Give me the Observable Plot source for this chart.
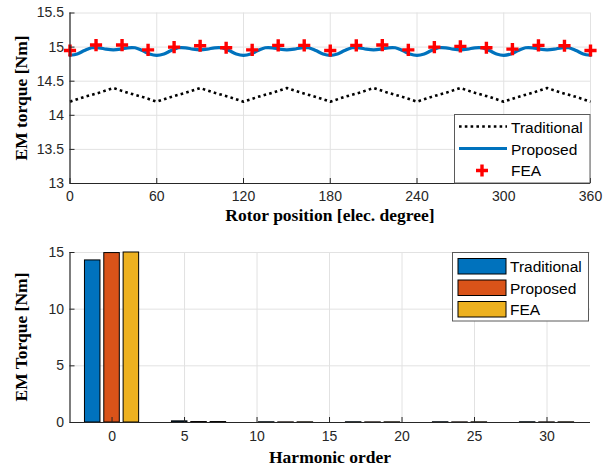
<!DOCTYPE html>
<html>
<head>
<meta charset="utf-8">
<script src="https://cdn.jsdelivr.net/npm/d3@7"></script>
<script src="https://cdn.jsdelivr.net/npm/@observablehq/plot@0.6"></script>
<style>
  html, body { margin: 0; padding: 0; background: #fff; }
  #wrap { position: relative; width: 613px; height: 467px; overflow: hidden; }
  #topPlot, #botPlot, #overlay { position: absolute; left: 0; }
  #topPlot { top: 0; }
  #botPlot { top: 230px; }
  #overlay { top: 0; pointer-events: none; }
</style>
</head>
<body>
<div id="wrap">
  <div id="topPlot"></div>
  <div id="botPlot"></div>
  <svg id="overlay" width="613" height="467"></svg>
</div>
<script>
// ---------- DATA ----------
const xTicksTop = [0, 60, 120, 180, 240, 300, 360];
const yTicksTop = [13, 13.5, 14, 14.5, 15, 15.5];

const angleTrad = [0,10,20,30,40,50,60,70,80,90,100,110,120,130,140,150,160,170,180,
  190,200,210,220,230,240,250,260,270,280,290,300,310,320,330,340,350,360];
const traditional = [14.2,14.27,14.33,14.4,14.33,14.27,14.2,14.27,14.33,14.4,14.33,14.27,14.2,
  14.27,14.33,14.4,14.33,14.27,14.2,14.27,14.33,14.4,14.33,14.27,14.2,14.27,14.33,14.4,
  14.33,14.27,14.2,14.27,14.33,14.4,14.33,14.27,14.2];

const angleProp = [0,5,10,15,20,25,30,35,40,45,50,55,60,65,70,75,80,85,90,95,100,105,110,115,120,
  125,130,135,140,145,150,155,160,165,170,175,180,185,190,195,200,205,210,215,220,225,230,235,240,
  245,250,255,260,265,270,275,280,285,290,295,300,305,310,315,320,325,330,335,340,345,350,355,360];
const proposed = [14.88,14.90,14.95,14.99,14.99,14.97,14.96,14.97,14.99,14.99,14.95,14.90,
  14.88,14.90,14.95,14.99,14.99,14.97,14.96,14.97,14.99,14.99,14.95,14.90,
  14.88,14.90,14.95,14.99,14.99,14.97,14.96,14.97,14.99,14.99,14.95,14.90,
  14.88,14.90,14.95,14.99,14.99,14.97,14.96,14.97,14.99,14.99,14.95,14.90,
  14.88,14.90,14.95,14.99,14.99,14.97,14.96,14.97,14.99,14.99,14.95,14.90,
  14.88,14.90,14.95,14.99,14.99,14.97,14.96,14.97,14.99,14.99,14.95,14.90,
  14.88];

const angleFea = [0,18,36,54,72,90,108,126,144,162,180,198,216,234,252,270,288,306,324,342,360];
const feaTorque = [14.95,15.03,15.03,14.96,15.0,15.02,14.99,14.96,15.025,15.025,14.95,
  15.025,15.03,14.96,15.0,15.01,14.99,14.97,15.025,15.02,14.95];

const xTicksBot = [0, 5, 10, 15, 20, 25, 30];
const yTicksBot = [0, 5, 10, 15];
const harmonics = [0, 6, 12, 18, 24, 30];
const barTraditional = [14.3, 0.1, 0.02, 0.02, 0.02, 0.02];
const barProposed    = [14.95, 0.04, 0.01, 0.01, 0.01, 0.01];
const barFEA         = [15.0, 0.04, 0.015, 0.015, 0.015, 0.015];

const seriesNames = ["Traditional", "Proposed", "FEA"];
const barColors = ["#0072BD", "#D95319", "#EDB120"];

// ---------- styling ----------
const axisColor = "#262626";
const gridColor = "#e2e2e2";
const tickFont = "'Liberation Sans', Arial, Helvetica, sans-serif";
const titleFont = "'Liberation Serif', 'Times New Roman', serif";

// ---------- TOP PLOT ----------
const tradData = angleTrad.map((a, i) => ({a, v: traditional[i]}));
const propData = angleProp.map((a, i) => ({a, v: proposed[i]}));
const feaData = angleFea.map((a, i) => ({a, v: feaTorque[i]}));

const topPlot = Plot.plot({
  width: 613, height: 230,
  marginLeft: 69.5, marginRight: 23, marginTop: 12.5, marginBottom: 47,
  style: {fontFamily: tickFont, fontSize: "14px", color: axisColor, background: "transparent", overflow: "visible"},
  x: {domain: [0, 360]},
  y: {domain: [13, 15.5]},
  marks: [
    Plot.gridX(xTicksTop, {stroke: gridColor, strokeOpacity: 1}),
    Plot.gridY(yTicksTop, {stroke: gridColor, strokeOpacity: 1}),
    Plot.line(tradData, {x: "a", y: "v", stroke: "#000", strokeWidth: 2.6, strokeDasharray: "2.6,3.2", strokeLinecap: "butt"}),
    Plot.line(propData, {x: "a", y: "v", stroke: "#0072BD", strokeWidth: 3.2, curve: "catmull-rom"}),
    Plot.dot(feaData, {x: "a", y: "v", symbol: "plus", r: 4, stroke: "#ff0000", strokeWidth: 3.4}),
    Plot.ruleX([0], {stroke: axisColor, strokeWidth: 1.2}),
    Plot.ruleY([13], {stroke: axisColor, strokeWidth: 1.2}),
    Plot.axisX(xTicksTop, {tickSize: -5, tickPadding: 13, label: null, stroke: axisColor, fill: axisColor, tickFormat: d => String(d)}),
    Plot.axisY(yTicksTop, {tickSize: -5, tickPadding: 11, label: null, stroke: axisColor, fill: axisColor, tickFormat: d => String(d)})
  ]
});
document.getElementById("topPlot").appendChild(topPlot);

// ---------- BOTTOM PLOT ----------
const groupOffsets = [-4/3, 0, 4/3];
const halfBar = 0.535;
const barValues = [barTraditional, barProposed, barFEA];
const barData = [];
harmonics.forEach((h, i) => {
  seriesNames.forEach((s, j) => {
    barData.push({h, s, off: groupOffsets[j], v: barValues[j][i]});
  });
});

const botPlot = Plot.plot({
  width: 613, height: 237,
  marginLeft: 69.5, marginRight: 23, marginTop: 22, marginBottom: 45,
  style: {fontFamily: tickFont, fontSize: "14px", color: axisColor, background: "transparent", overflow: "visible"},
  x: {domain: [-2.9, 33]},
  y: {domain: [0, 15]},
  color: {domain: seriesNames, range: barColors},
  marks: [
    Plot.gridX(xTicksBot, {stroke: gridColor, strokeOpacity: 1}),
    Plot.gridY(yTicksBot, {stroke: gridColor, strokeOpacity: 1}),
    Plot.rectY(barData, {
      x1: d => d.h + d.off - halfBar,
      x2: d => d.h + d.off + halfBar,
      y1: 0, y2: "v",
      fill: "s", stroke: "#000", strokeWidth: 1
    }),
    Plot.ruleX([-2.9], {stroke: axisColor, strokeWidth: 1.2}),
    Plot.ruleY([0], {stroke: axisColor, strokeWidth: 1.2}),
    Plot.axisX(xTicksBot, {tickSize: -5, tickPadding: 14, label: null, stroke: axisColor, fill: axisColor, tickFormat: d => String(d)}),
    Plot.axisY(yTicksBot, {tickSize: -5, tickPadding: 11, label: null, stroke: axisColor, fill: axisColor, tickFormat: d => String(d)})
  ]
});
document.getElementById("botPlot").appendChild(botPlot);

// ---------- OVERLAY: titles & legends ----------
const ov = d3.select("#overlay");
const titleStyle = sel => sel.attr("font-family", titleFont).attr("font-weight", "bold")
  .attr("font-size", 17.5).attr("fill", "#000").attr("text-anchor", "middle").attr("dominant-baseline", "central");

ov.append("text").call(titleStyle).attr("transform", "translate(21,98) rotate(-90)").text("EM torque [Nm]");
ov.append("text").call(titleStyle).attr("x", 330).attr("y", 215).text("Rotor position [elec. degree]");
ov.append("text").call(titleStyle).attr("transform", "translate(21,337) rotate(-90)").text("EM Torque [Nm]");
ov.append("text").call(titleStyle).attr("x", 330).attr("y", 456.5).text("Harmonic order");

const legText = (g, x, y, t) => g.append("text").attr("x", x).attr("y", y)
  .attr("font-family", tickFont).attr("font-size", 15.5).attr("fill", "#000")
  .attr("dominant-baseline", "central").text(t);

// top legend
const lt = ov.append("g");
lt.append("rect").attr("x", 454.5).attr("y", 114.5).attr("width", 135.5).attr("height", 68.5)
  .attr("fill", "#fff").attr("stroke", "#5a5a5a").attr("stroke-width", 1);
lt.append("line").attr("x1", 459).attr("x2", 507).attr("y1", 126.5).attr("y2", 126.5)
  .attr("stroke", "#000").attr("stroke-width", 2.6).attr("stroke-dasharray", "2.6,3.2");
lt.append("line").attr("x1", 459).attr("x2", 507).attr("y1", 148.5).attr("y2", 148.5)
  .attr("stroke", "#0072BD").attr("stroke-width", 3.2);
lt.append("path").attr("d", "M476,170.5H488M482,164.5V176.5").attr("stroke", "#ff0000").attr("stroke-width", 3.4);
legText(lt, 511, 127, seriesNames[0]);
legText(lt, 511, 149, seriesNames[1]);
legText(lt, 511, 170.5, seriesNames[2]);

// bottom legend
const lb = ov.append("g");
lb.append("rect").attr("x", 452.5).attr("y", 252.5).attr("width", 136).attr("height", 68.5)
  .attr("fill", "#fff").attr("stroke", "#5a5a5a").attr("stroke-width", 1);
[258.5, 280, 301.5].forEach((y, i) => {
  lb.append("rect").attr("x", 458).attr("y", y).attr("width", 48).attr("height", 15.5)
    .attr("fill", barColors[i]).attr("stroke", "#000").attr("stroke-width", 1);
  legText(lb, 510, y + 8, seriesNames[i]);
});
</script>
</body>
</html>
